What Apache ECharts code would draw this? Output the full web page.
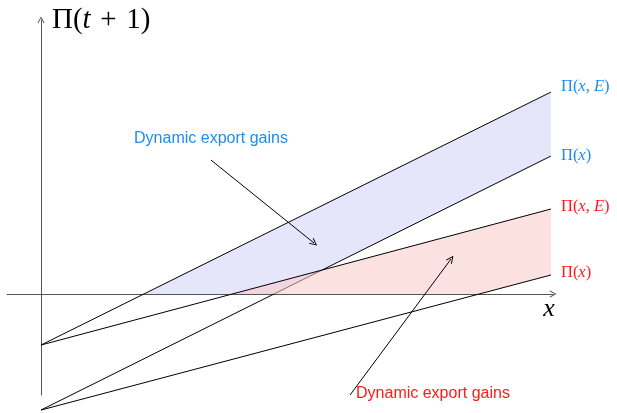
<!DOCTYPE html>
<html>
<head>
<meta charset="utf-8">
<script src="https://cdn.jsdelivr.net/npm/echarts@6/dist/echarts.min.js"></script>
<style>
  html, body { margin: 0; padding: 0; background: #fff; }
  #chart { width: 617px; height: 413px; }
</style>
</head>
<body>
<div id="chart"></div>
<script>
// line endpoints at x = 0 and x = 10
const xEnds = [0, 10];
const blueE = [-1.0, 3.96];
const bluePi = [-2.275, 2.706];
const redE = [-1.0, 1.667];
const redPi = [-2.275, 0.373];

// annotations (data coords)
const noteText = 'Dynamic export gains';
const blueNote = [3.333, 3.039];
const blueArrow = [[3.333, 2.627], [5.353, 1.0]];
const redNote = [7.686, -1.961];
const redArrow = [[6.06, -1.98], [8.04, 0.686]];

const BLUE = '#1e8cf0';
const RED = '#ff1a1a';
const arrowPath = 'path://M5,0 L10,9 L9,10 L5,2.6 L1,10 L0,9 Z';

function root(line) {
  return xEnds[0] - line[0] * (xEnds[1] - xEnds[0]) / (line[1] - line[0]);
}

// area between upper line and max(lower line, 0)
function band(upper, lower) {
  return [
    [root(upper), 0],
    [root(lower), 0],
    [xEnds[1], lower[1]],
    [xEnds[1], upper[1]]
  ];
}

function lineData(line) {
  return [[xEnds[0], line[0]], [xEnds[1], line[1]]];
}

const rich = {
  g: { fontFamily: 'Liberation Serif', fontSize: 16.5 },
  i: { fontFamily: 'Liberation Serif', fontSize: 16.5, fontStyle: 'italic' }
};

function endLabel(text, color, offset) {
  const r = {};
  Object.keys(rich).forEach((k) => { r[k] = Object.assign({ color: color }, rich[k]); });
  return {
    show: true,
    distance: 10,
    offset: offset || [0, 0],
    formatter: () => text,
    rich: r
  };
}

function lineSeries(name, line, label, z) {
  return {
    name: name,
    type: 'line',
    data: lineData(line),
    showSymbol: false,
    clip: false,
    silent: true,
    z: z,
    lineStyle: { color: '#000', width: 1 },
    endLabel: label
  };
}

function fillSeries(pts, fill, z) {
  return {
    type: 'custom',
    data: [[0, 0]],
    z: z,
    silent: true,
    renderItem: (params, api) => ({
      type: 'polygon',
      shape: { points: pts.map((p) => api.coord(p)) },
      style: { fill: fill }
    })
  };
}

function note(coord, color) {
  return {
    coord: coord,
    symbolSize: 1,
    itemStyle: { color: 'rgba(0,0,0,0)' },
    label: {
      show: true,
      position: 'inside',
      formatter: noteText,
      color: color,
      fontFamily: 'Liberation Sans',
      fontSize: 16
    }
  };
}

const chart = echarts.init(document.getElementById('chart'));

chart.setOption({
  animation: false,
  backgroundColor: '#fff',
  grid: { left: 7, right: 64, top: 20, bottom: 18 },
  xAxis: {
    type: 'value',
    min: -0.667,
    max: 10.04,
    name: '{i|x}',
    nameLocation: 'end',
    nameGap: -4,
    nameTextStyle: {
      align: 'center',
      verticalAlign: 'top',
      padding: [2, 0, 0, 0],
      rich: { i: { fontFamily: 'Liberation Serif', fontStyle: 'italic', fontSize: 26, color: '#000' } }
    },
    axisLine: {
      onZero: true,
      symbol: ['none', arrowPath],
      symbolSize: [7, 8],
      lineStyle: { color: '#555', width: 1 }
    },
    axisTick: { show: false },
    axisLabel: { show: false },
    splitLine: { show: false }
  },
  yAxis: {
    type: 'value',
    min: -1.98,
    max: 5.373,
    name: '{a|Π(}{i|t}{a| \u200a+\u200a 1)}',
    nameLocation: 'end',
    nameGap: 0,
    nameTextStyle: {
      align: 'left',
      verticalAlign: 'middle',
      padding: [0, 0, 0, 11],
      rich: {
        a: { fontFamily: 'Liberation Serif', fontSize: 29, color: '#000' },
        i: { fontFamily: 'Liberation Serif', fontStyle: 'italic', fontSize: 29, color: '#000' }
      }
    },
    axisLine: {
      onZero: true,
      symbol: ['none', arrowPath],
      symbolSize: [7, 8],
      lineStyle: { color: '#555', width: 1 }
    },
    axisTick: { show: false },
    axisLabel: { show: false },
    splitLine: { show: false }
  },
  series: [
    fillSeries(band(blueE, bluePi), '#e6e6fa', 1),
    lineSeries('Π(x) blue', bluePi, endLabel('{g|Π(}{i|x}{g|)}', BLUE), 2),
    fillSeries(band(redE, redPi), 'rgba(250,200,200,0.55)', 3),
    lineSeries('Π(x,E) blue', blueE, endLabel('{g|Π(}{i|x}{g|, }{i|E}{g|)}', BLUE, [0, -5]), 4),
    lineSeries('Π(x,E) red', redE, endLabel('{g|Π(}{i|x}{g|, }{i|E}{g|)}', RED, [0, -2]), 4),
    Object.assign(lineSeries('Π(x) red', redPi, endLabel('{g|Π(}{i|x}{g|)}', RED, [0, -2]), 4), {
      markPoint: {
        silent: true,
        data: [note(blueNote, BLUE), note(redNote, RED)]
      },
      markLine: {
        silent: true,
        symbol: ['none', arrowPath],
        symbolSize: [7, 8],
        lineStyle: { color: '#000', width: 1, type: 'solid' },
        label: { show: false },
        data: [
          [{ coord: blueArrow[0] }, { coord: blueArrow[1] }],
          [{ coord: redArrow[0] }, { coord: redArrow[1] }]
        ]
      }
    })
  ]
});
</script>
</body>
</html>
